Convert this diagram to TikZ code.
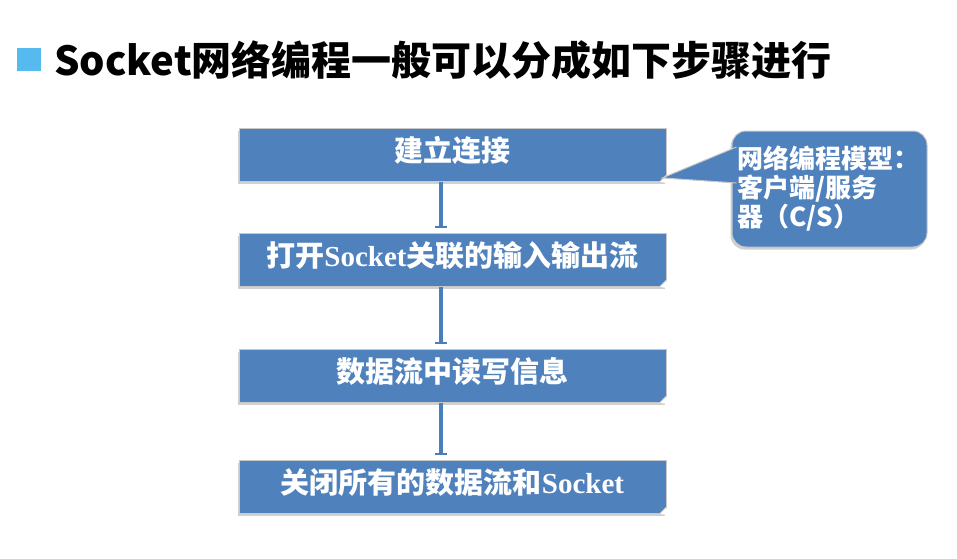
\documentclass[tikz,border=0pt]{standalone}
\usepackage{fontspec}
\setmainfont{Liberation Serif}
\newfontfamily\cjk{Noto Sans CJK SC}
\usetikzlibrary{arrows.meta, positioning, calc, shadows}
\definecolor{stepblue}{HTML}{4F81BD}
\definecolor{linkblue}{HTML}{4A7EBB}
\definecolor{titlesquare}{HTML}{55BBEE}
\definecolor{edgegray}{HTML}{C8C8C8}

\begin{document}
\begin{tikzpicture}[x=1pt, y=-1pt,
    stepbox/.style={fill=stepblue, draw=edgegray, line width=0.8pt,
      minimum width=427pt, minimum height=53pt, inner sep=0pt, text depth=12pt,
      text=white, font=\cjk\bfseries\fontsize{29}{32}\selectfont,
      drop shadow={shadow xshift=-1.5pt, shadow yshift=-2pt, fill=gray!60, opacity=.6}},
    link/.style={linkblue, line width=4pt, shorten >=5pt,
      -{Bar[width=12pt, line width=2.5pt]}},
    notebox/.style={fill=stepblue, draw=edgegray, line width=1pt,
      rounded corners=14pt, minimum width=195pt, minimum height=116pt,
      text width=184pt, align=left, inner sep=0pt, text=white,
      font=\cjk\bfseries\fontsize{26}{29}\selectfont,
      drop shadow={shadow xshift=-1.5pt, shadow yshift=-2.5pt, fill=gray!60, opacity=.6}}]
  \fill[white] (0,0) rectangle (957,558);
  \useasboundingbox (0,0) rectangle (957,558);

  % title
  \fill[titlesquare] (17,48) rectangle (41,71);
  \node[anchor=west, inner sep=0pt, font=\cjk\bfseries\fontsize{40}{44}\selectfont]
    (title) at (54,60) {Socket网络编程一般可以分成如下步骤进行};

  % steps
  \foreach \i/\y/\txt in {
    1/155/建立连接,
    2/260/打开{\rmfamily Socket}关联的输入输出流,
    3/376/数据流中读写信息,
    4/487/关闭所有的数据流和{\rmfamily Socket}} {
    \node[stepbox] (s\i) at (452.5,\y) {\txt};
    \fill[white] ($(s\i.south east)+(-7,0)$) -- ($(s\i.south east)+(0,-7)$)
      -- ($(s\i.south east)+(1,1)$) -- cycle;
    \draw[edgegray, line width=0.8pt] ($(s\i.south east)+(-7,0)$) -- ($(s\i.south east)+(0,-7)$);
  }

  \foreach \i/\j in {1/2, 2/3, 3/4}
    \draw[link] ([xshift=-12pt]s\i.south) -- ([xshift=-12pt]s\j.north);

  % callout
  \node[notebox] (co) at (829.5,189) {网络编程模型：\\客户端/服务\\器（C/S）};
  \coordinate (tip) at ($(s1.south east)+(-4,-4)$);
  \coordinate (p1) at ($(co.west)+(5,-42)$);
  \coordinate (p2) at ($(co.west)+(5,-6)$);
  \fill[stepblue] (tip) -- (p1) -- (p2) -- cycle;
  \draw[edgegray, line width=1pt] (p1) -- (tip) -- (p2);
\end{tikzpicture}
\end{document}
